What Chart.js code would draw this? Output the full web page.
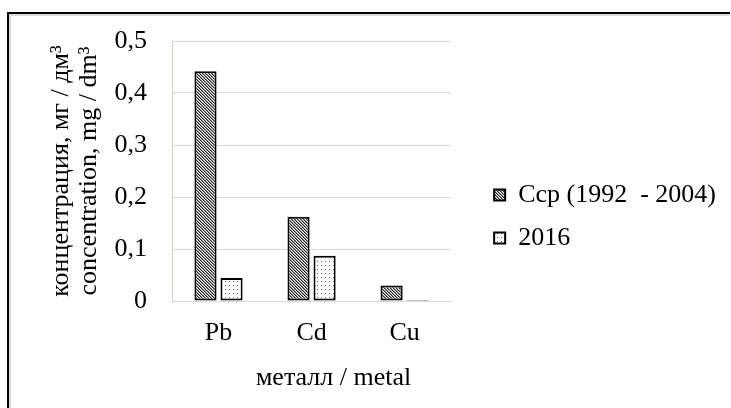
<!DOCTYPE html>
<html>
<head>
<meta charset="utf-8">
<script src="https://cdn.jsdelivr.net/npm/chart.js@4"></script>
<style>
  body { margin: 0; background: #fff; }
  #wrap { width: 731px; height: 408px; }
</style>
</head>
<body>
<div id="wrap"><canvas id="chart" width="731" height="408"></canvas></div>
<script>
// данные
const metals = ['Pb', 'Cd', 'Cu'];
const seriesNames = ['Ccp (1992  - 2004)', '2016'];
const avgValues = [0.442, 0.162, 0.030];
const values2016 = [0.044, 0.087, 0.002];
const yTickLabels = ['0', '0,1', '0,2', '0,3', '0,4', '0,5'];
const yTitle = ['концентрация, мг / дм³', 'concentration, mg / dm³'];
const xTitle = 'металл / metal';

const FONT = 'Liberation Serif, Times New Roman, serif';
const LEGEND_W = 270;

// штриховка для столбцов
function hatchPattern() {
  const c = document.createElement('canvas');
  c.width = 3; c.height = 3;
  const g = c.getContext('2d');
  g.fillStyle = '#fff';
  g.fillRect(0, 0, 3, 3);
  for (let i = 0; i < 3; i++) {
    g.fillStyle = '#222';
    g.fillRect(i, i, 1, 1);
    g.fillStyle = '#8a8a8a';
    g.fillRect((i + 1) % 3, i, 1, 1);
  }
  return g.createPattern(c, 'repeat');
}

function dotPattern() {
  const c = document.createElement('canvas');
  c.width = 4; c.height = 4;
  const g = c.getContext('2d');
  g.fillStyle = '#fff';
  g.fillRect(0, 0, 4, 4);
  g.fillStyle = '#666';
  g.fillRect(1, 1, 1, 1);
  return g.createPattern(c, 'repeat');
}

// рамка вокруг диаграммы
const framePlugin = {
  id: 'frame',
  beforeDraw(chart) {
    const ctx = chart.ctx;
    ctx.save();
    ctx.fillStyle = '#fff';
    ctx.fillRect(0, 0, chart.width, chart.height);
    ctx.fillStyle = '#dcdcdc';
    ctx.fillRect(9, 14, 721, 2);
    ctx.fillRect(9, 14, 2, 394);
    ctx.fillStyle = '#000';
    ctx.fillRect(7, 12, 723, 2);
    ctx.fillRect(7, 12, 2, 396);
    ctx.restore();
  }
};

// подпись оси X сдвинута вправо, как в исходнике
const xTitlePlugin = {
  id: 'xTitle',
  afterDraw(chart) {
    const ctx = chart.ctx;
    const xs = chart.scales.x;
    ctx.save();
    ctx.font = '26px ' + FONT;
    ctx.fillStyle = '#000';
    ctx.textAlign = 'center';
    ctx.textBaseline = 'alphabetic';
    ctx.fillText(xTitle, (xs.left + xs.right) / 2 + 22, xs.bottom - 7);
    ctx.restore();
  }
};

// легенда справа шире, чем разрешает layout по умолчанию
const wideLegend = {
  id: 'wideLegend',
  beforeLayout(chart) {
    const leg = chart.legend;
    if (leg && !leg._wide) {
      const upd = leg.update;
      leg.update = function (mw, mh, margins) {
        return upd.call(this, LEGEND_W, mh, margins);
      };
      leg._wide = true;
    }
  }
};

new Chart(document.getElementById('chart'), {
  type: 'bar',
  data: {
    labels: metals,
    datasets: [
      {
        label: seriesNames[0],
        data: avgValues,
        backgroundColor: hatchPattern(),
        borderColor: '#000',
        borderWidth: 2,
        borderSkipped: false,
        yAxisID: 'y'
      },
      {
        label: seriesNames[1],
        data: values2016,
        backgroundColor: dotPattern(),
        borderColor: '#000',
        borderWidth: 2,
        borderSkipped: false,
        yAxisID: 'y'
      }
    ]
  },
  options: {
    responsive: false,
    devicePixelRatio: 1,
    animation: false,
    categoryPercentage: 0.56,
    barPercentage: 0.85,
    layout: { padding: { left: 47, top: 41, right: 5, bottom: 16 } },
    plugins: {
      tooltip: { enabled: false },
      legend: {
        position: 'right',
        labels: {
          font: { family: FONT, size: 26 },
          color: '#000',
          boxWidth: 11,
          boxHeight: 11,
          padding: 17
        }
      }
    },
    scales: {
      x: {
        grid: { display: false },
        border: { display: true, color: '#d9d9d9' },
        ticks: { font: { family: FONT, size: 26 }, color: '#000', padding: 9 },
        afterFit(s) { s.height = 91; }
      },
      y: {
        min: 0,
        max: 0.5,
        ticks: {
          stepSize: 0.1,
          font: { family: FONT, size: 26 },
          color: '#000',
          padding: 25,
          callback: (v, i) => yTickLabels[i]
        },
        grid: { color: '#d9d9d9', drawTicks: false },
        border: { display: true, color: '#d6d0bc' },
        title: { display: true, text: yTitle, font: { family: FONT, size: 26, lineHeight: 1.08 }, color: '#000', padding: 0 },
        afterFit(s) { s.width = 125; }
      },
      yR: {
        type: 'linear',
        position: 'right',
        grid: { display: false },
        border: { display: false },
        ticks: { display: false },
        afterFit(s) { s.width = 26; }
      }
    }
  },
  plugins: [framePlugin, xTitlePlugin, wideLegend]
});
</script>
</body>
</html>
